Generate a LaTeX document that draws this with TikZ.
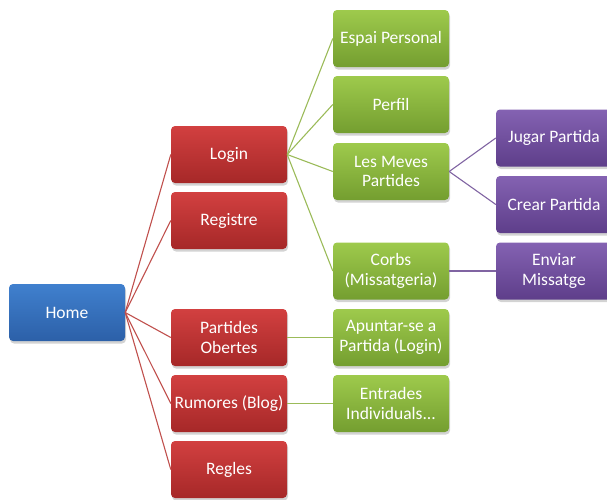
\documentclass[tikz,border=0pt]{standalone}
\usepackage{fontspec}
\setmainfont{Carlito}
\usetikzlibrary{shadows}

\definecolor{bluetop}{RGB}{64,128,206}
\definecolor{bluebot}{RGB}{44,96,168}
\definecolor{redtop}{RGB}{210,64,64}
\definecolor{redbot}{RGB}{166,40,40}
\definecolor{greentop}{RGB}{158,202,76}
\definecolor{greenbot}{RGB}{116,158,48}
\definecolor{purptop}{RGB}{132,98,178}
\definecolor{purpbot}{RGB}{94,62,138}
\definecolor{redline}{RGB}{192,80,77}
\definecolor{greenline}{RGB}{155,187,89}
\definecolor{purpline}{RGB}{128,100,162}

\tikzset{
    box/.style={rounded corners=4pt,minimum width=116pt,minimum height=57pt,inner sep=0pt,
        align=center,text=white,font=\fontsize{17.5}{19.5}\selectfont,
        drop shadow={opacity=0.35,shadow xshift=1pt,shadow yshift=-2.5pt}},
    homebox/.style={box,top color=bluetop,bottom color=bluebot},
    redbox/.style={box,top color=redtop,bottom color=redbot},
    greenbox/.style={box,top color=greentop,bottom color=greenbot},
    purplebox/.style={box,top color=purptop,bottom color=purpbot},
}

\begin{document}
\begin{tikzpicture}[x=1pt,y=-1pt]
                \useasboundingbox (0,0) rectangle (607,499);
                \clip (0,0) rectangle (607,499);

                % level 1 and 2
                \node[homebox] (home) at (67,312.5) {Home};
                \node[redbox] (login) at (229,154.5) {Login};
                \node[redbox] (registre) at (229,220.5) {Registre};
                \node[redbox] (obertes) at (229,337.5) {Partides\\Obertes};
                \node[redbox] (rumores) at (229,403.5) {Rumores (Blog)};
                \node[redbox] (regles) at (229,469.5) {Regles};

                % level 3
                \node[greenbox] (espai) at (391,38.5) {Espai Personal};
                \node[greenbox] (perfil) at (391,104.5) {Perfil};
                \node[greenbox] (meves) at (391,171.5) {Les Meves\\Partides};
                \node[greenbox] (corbs) at (391,271) {Corbs\\(Missatgeria)};
                \node[greenbox] (apuntar) at (391,337.5) {Apuntar-se a\\Partida (Login)};
                \node[greenbox] (entrades) at (391,403.5) {Entrades\\Individuals...};

                % level 4
                \node[purplebox] (jugar) at (554,138) {Jugar Partida};
                \node[purplebox] (crear) at (554,204.5) {Crear Partida};
                \node[purplebox] (enviar) at (554,271) {Enviar\\Missatge};

                \foreach \n in {login,registre,obertes,rumores,regles}
                    \draw[redline,line width=1.1pt] (home.east) -- (\n.west);
                \foreach \n in {espai,perfil,meves,corbs}
                    \draw[greenline,line width=1.1pt] (login.east) -- (\n.west);
                \draw[greenline,line width=1.1pt] (obertes.east) -- (apuntar.west);
                \draw[greenline,line width=1.1pt] (rumores.east) -- (entrades.west);
                \draw[purpline,line width=1.1pt] (meves.east) -- (jugar.west);
                \draw[purpline,line width=1.1pt] (meves.east) -- (crear.west);
                \draw[purpline,line width=1.1pt] (corbs.east) -- (enviar.west);
            \end{tikzpicture}
\end{document}
